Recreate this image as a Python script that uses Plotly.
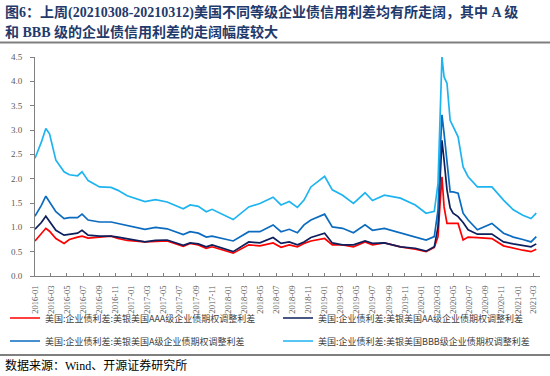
import plotly.graph_objects as go

# ---------------- data ----------------
dates = [
    "2016-01-01", "2016-01-25", "2016-02-11", "2016-02-25", "2016-03-20", "2016-04-20",
    "2016-05-10", "2016-06-10", "2016-06-27", "2016-07-20", "2016-09-01", "2016-10-15",
    "2016-11-10", "2016-12-15", "2017-02-20", "2017-04-01", "2017-05-15", "2017-07-15",
    "2017-08-10", "2017-09-10", "2017-10-10", "2017-11-01", "2018-01-20", "2018-03-20",
    "2018-05-01", "2018-06-20", "2018-07-20", "2018-08-20", "2018-09-20", "2018-10-15",
    "2018-11-10", "2019-01-01", "2019-01-30", "2019-03-10", "2019-04-20", "2019-06-03",
    "2019-07-01", "2019-08-15", "2019-10-15", "2019-12-10", "2020-01-20", "2020-02-20",
    "2020-03-05", "2020-03-13", "2020-03-20", "2020-03-28", "2020-04-08", "2020-04-20",
    "2020-05-01", "2020-05-20", "2020-06-08", "2020-06-27", "2020-08-01", "2020-09-25",
    "2020-11-08", "2020-12-15", "2021-01-20", "2021-02-20", "2021-03-12",
]
aaa = [
    0.72, 0.86, 0.98, 0.92, 0.77, 0.67,
    0.75, 0.80, 0.82, 0.78, 0.80, 0.82,
    0.77, 0.73, 0.70, 0.71, 0.72, 0.61,
    0.67, 0.64, 0.57, 0.60, 0.47, 0.64,
    0.62, 0.68, 0.59, 0.64, 0.60, 0.67,
    0.72, 0.77, 0.64, 0.64, 0.60, 0.70,
    0.64, 0.68, 0.60, 0.55, 0.50, 0.59,
    0.81, 1.50, 2.04, 1.42, 1.08, 1.08,
    1.08, 1.08, 0.74, 0.80, 0.79, 0.77,
    0.62, 0.57, 0.53, 0.50, 0.55,
]
aa = [
    0.96, 1.10, 1.23, 1.12, 0.94, 0.84,
    0.86, 0.88, 0.94, 0.84, 0.82, 0.82,
    0.80, 0.77, 0.70, 0.73, 0.74, 0.63,
    0.68, 0.66, 0.60, 0.64, 0.50, 0.70,
    0.68, 0.79, 0.67, 0.70, 0.64, 0.70,
    0.79, 0.88, 0.68, 0.64, 0.64, 0.72,
    0.67, 0.68, 0.60, 0.57, 0.51, 0.60,
    1.01, 2.00, 2.79, 2.38, 1.77, 1.40,
    1.29, 1.22, 1.10, 0.95, 0.86, 0.86,
    0.70, 0.66, 0.63, 0.60, 0.66,
]
a = [
    1.23, 1.45, 1.64, 1.53, 1.32, 1.18,
    1.20, 1.20, 1.27, 1.15, 1.11, 1.11,
    1.08, 1.05, 0.96, 1.00, 0.97, 0.85,
    0.91, 0.88, 0.80, 0.82, 0.72, 0.91,
    0.91, 1.05, 0.91, 0.96, 0.89, 1.05,
    1.15, 1.27, 1.01, 0.98, 0.89, 1.05,
    0.94, 0.98, 0.89, 0.81, 0.74, 0.81,
    1.36, 2.50, 3.31, 2.93, 2.31, 1.73,
    1.73, 1.70, 1.29, 1.15, 0.95, 1.08,
    0.88, 0.80, 0.75, 0.70, 0.81,
]
bbb = [
    2.42, 2.75, 3.03, 2.92, 2.38, 2.14,
    2.08, 2.06, 2.14, 1.96, 1.83, 1.82,
    1.76, 1.65, 1.53, 1.57, 1.52, 1.38,
    1.46, 1.43, 1.32, 1.37, 1.16, 1.42,
    1.49, 1.62, 1.46, 1.53, 1.41, 1.56,
    1.83, 2.05, 1.77, 1.66, 1.49, 1.71,
    1.55, 1.66, 1.60, 1.46, 1.29, 1.33,
    1.90, 3.27, 4.50, 4.09, 3.96, 3.20,
    3.07, 2.86, 2.24, 2.04, 1.83, 1.83,
    1.56, 1.36, 1.25, 1.18, 1.29,
]
series_names = [
    "美国:企业债利差:美银美国AAA级企业债期权调整利差",
    "美国:企业债利差:美银美国AA级企业债期权调整利差",
    "美国:企业债利差:美银美国A级企业债期权调整利差",
    "美国:企业债利差:美银美国BBB级企业债期权调整利差",
]
y_ticks = [0.0, 0.5, 1.0, 1.5, 2.0, 2.5, 3.0, 3.5, 4.0, 4.5]
title_lines = [
    "图6：上周(20210308-20210312)美国不同等级企业债信用利差均有所走阔，其中 A 级",
    "和 BBB 级的企业债信用利差的走阔幅度较大",
]
source_text = "数据来源：Wind、开源证券研究所"

# ---------------- styling ----------------
colors = ["#FF0000", "#0D1F5C", "#0B6BBF", "#1EB4F0"]
legend_ids = ["legend", "legend2", "legend3", "legend4"]
legend_pos = [(5, 318), (278, 318), (5, 341), (278, 341)]  # pixel anchors
CJK = "Noto Sans CJK SC"
SERIF = "Liberation Serif, Noto Sans CJK SC"

W, H = 550, 376
L, R, T, B = 35, 10, 57, 100
PW, PH = W - L - R, H - T - B


def px_x(px):
    return (px - L) / PW


def px_y(py):
    return (H - B - py) / PH


fig = go.Figure()
for name, vals, col, leg in zip(series_names, [aaa, aa, a, bbb], colors, legend_ids):
    fig.add_trace(go.Scatter(
        x=dates, y=vals, mode="lines", name=name,
        line=dict(color=col, width=1.7), legend=leg,
    ))

legend_layout = {}
for leg, (lx, ly) in zip(legend_ids, legend_pos):
    legend_layout[leg] = dict(
        orientation="v", xref="paper", yref="paper",
        x=px_x(lx), y=px_y(ly), xanchor="left", yanchor="middle",
        font=dict(family=CJK, size=9, color="#404040"),
        bgcolor="rgba(0,0,0,0)", itemwidth=30,
    )

fig.update_layout(
    width=W, height=H,
    margin=dict(l=L, r=R, t=T, b=B, autoexpand=False),
    paper_bgcolor="white", plot_bgcolor="white",
    showlegend=True,
    **legend_layout,
    xaxis=dict(
        type="date", range=["2016-01-01", "2021-03-26"],
        tick0="2016-01-01", dtick="M2", tickformat="%Y-%m",
        tickangle=-90, ticks="inside", ticklen=3, tickcolor="#808080",
        ticklabelstandoff=5,
        showline=True, linecolor="#808080", linewidth=1,
        showgrid=False, zeroline=False,
        tickfont=dict(family=SERIF, size=8.5, color="#595959"),
    ),
    yaxis=dict(
        range=[0, 4.5], tickvals=y_ticks, ticktext=[f"{v:.1f}" for v in y_ticks],
        ticks="outside", ticklen=4, tickcolor="#808080",
        ticklabelstandoff=6,
        showline=True, linecolor="#808080", linewidth=1,
        showgrid=False, zeroline=False,
        tickfont=dict(family=SERIF, size=9, color="#595959"),
    ),
    annotations=[
        dict(text="<b>" + title_lines[0] + "</b>", xref="paper", yref="paper",
             x=px_x(3), y=px_y(12), xanchor="left", yanchor="middle", showarrow=False,
             font=dict(family=SERIF, size=14, color="#1F3A6B")),
        dict(text="<b>" + title_lines[1] + "</b>", xref="paper", yref="paper",
             x=px_x(3), y=px_y(32), xanchor="left", yanchor="middle", showarrow=False,
             font=dict(family=SERIF, size=14, color="#1F3A6B")),
        dict(text=source_text, xref="paper", yref="paper",
             x=px_x(3), y=px_y(365), xanchor="left", yanchor="middle", showarrow=False,
             font=dict(family=SERIF, size=12, color="#000000")),
    ],
    shapes=[
        dict(type="line", xref="paper", yref="paper", x0=px_x(0), x1=px_x(W),
             y0=px_y(42.5), y1=px_y(42.5), line=dict(color="#7F7F7F", width=2)),
        dict(type="line", xref="paper", yref="paper", x0=px_x(0), x1=px_x(W),
             y0=px_y(355), y1=px_y(355), line=dict(color="#7F7F7F", width=2)),
    ],
)

fig.write_html(
    "out.html",
    config={"displayModeBar": False},
    post_script="document.body.style.margin='0';document.body.style.padding='0';",
)
